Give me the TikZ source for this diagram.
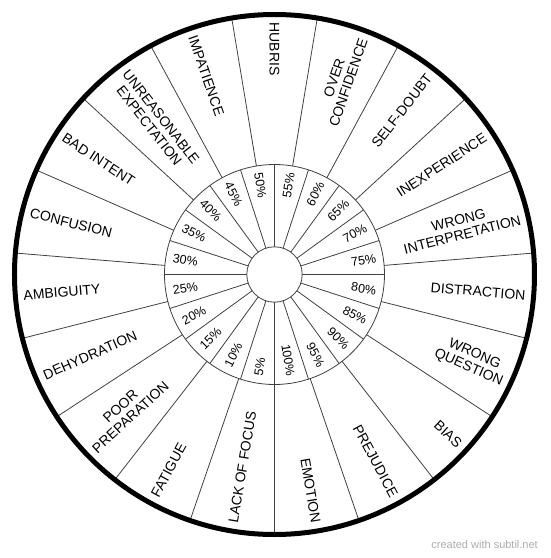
\documentclass[tikz,border=0pt]{standalone}
\usepackage{fontspec}
\setmainfont{Liberation Sans}
\begin{document}
\begin{tikzpicture}[
    spoke/.style={black!75, line width=0.8pt},
    causelabel/.style={inner sep=0pt, align=center, font=\fontsize{14}{15}\selectfont},
    pctlabel/.style={inner sep=0pt, font=\fontsize{12.5}{14}\selectfont}
  ]
    % Page frame (550 x 558), wheel centre at the origin
    \useasboundingbox (-274.5pt,-283.5pt) rectangle (275.5pt,274.5pt);
    \coordinate (c) at (0,0);

    % Inner ring: 20 sectors of 18 degrees
    \draw[spoke] (c) circle (110pt);
    \foreach \k in {0,...,19}
        \draw[spoke] (\k*18:27.7pt) -- (\k*18:110pt);

    % Percentages, 5% just left of the bottom, going clockwise
    \foreach \p [count=\i] in {5,10,...,100} {
        \pgfmathsetmacro\ang{261-18*(\i-1)}
        \pgfmathtruncatemacro\rgt{and(\ang>-90,\ang<90)}
        \ifnum\rgt=1
            \node[pctlabel, rotate=\ang, anchor=east] (pct\i) at (\ang:103pt) {\p\%};
        \else
            \node[pctlabel, rotate=\ang+180, anchor=west] (pct\i) at (\ang:103pt) {\p\%};
        \fi
    }

    % Outer ring: 19 sectors, HUBRIS centred at the top
    \foreach \k in {0,...,18}
        \draw[spoke] (90+180/19+\k*360/19:110pt) -- (90+180/19+\k*360/19:259pt);

    \foreach \t [count=\i] in {HUBRIS, {OVER\\CONFIDENCE}, SELF-DOUBT, INEXPERIENCE,
            {WRONG\\INTERPRETATION}, DISTRACTION, {WRONG\\QUESTION}, BIAS, PREJUDICE,
            EMOTION, LACK OF FOCUS, FATIGUE, {POOR\\PREPARATION}, DEHYDRATION,
            AMBIGUITY, CONFUSION, BAD INTENT, {UNREASONABLE\\EXPECTATION}, IMPATIENCE} {
        \pgfmathsetmacro\ang{90-(\i-1)*360/19}
        \pgfmathtruncatemacro\rgt{and(\ang>-90,\ang<90)}
        \ifnum\rgt=1
            \node[causelabel, rotate=\ang, anchor=east] (cause\i) at (\ang:252pt) {\t};
        \else
            \node[causelabel, rotate=\ang+180, anchor=west] (cause\i) at (\ang:252pt) {\t};
        \fi
    }

    % Hub and rim
    \draw[spoke, fill=white] (c) circle (27.7pt);
    \draw[line width=5pt] (c) circle (260pt);

    % Credit line
    \node[text=black!33, inner sep=0pt, anchor=east, font=\fontsize{11}{12}\selectfont]
        (credit) at (263.5pt,-270.5pt) {created with subtil.net};
\end{tikzpicture}
\end{document}
